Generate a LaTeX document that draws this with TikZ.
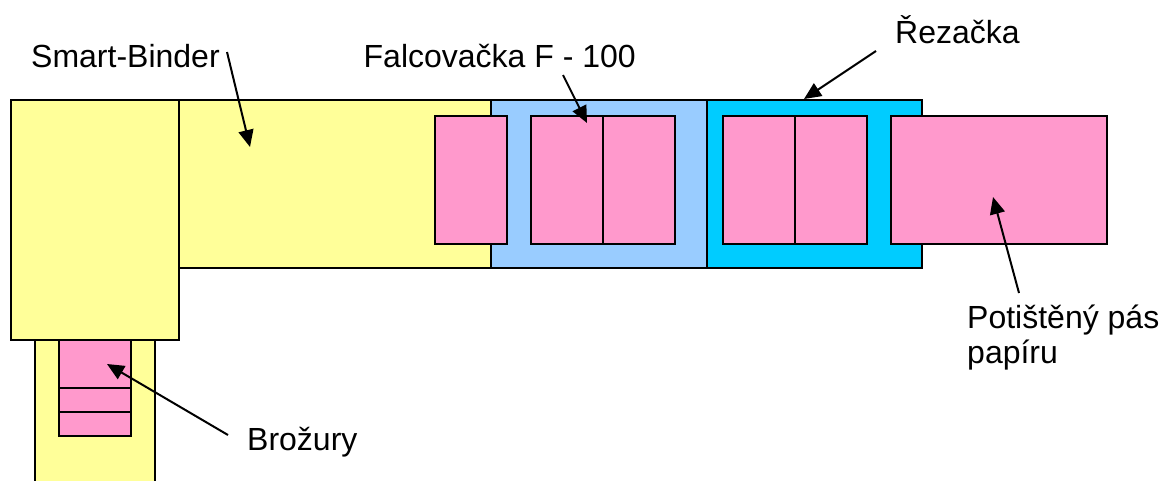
\documentclass[tikz,border=0pt]{standalone}
\usepackage{fontspec}
\setmainfont{Liberation Sans}
\usetikzlibrary{arrows.meta}
\definecolor{ylw}{HTML}{FFFF99}
\definecolor{lblue}{HTML}{99CCFF}
\definecolor{cyn}{HTML}{00CCFF}
\definecolor{pnk}{HTML}{FF99CC}
\begin{document}
\begin{tikzpicture}[x=1pt,y=-1pt,
  box/.style={draw=black, line width=2pt},
  lbl/.style={font=\fontsize{32}{35}\selectfont, inner sep=0pt, anchor=base west, align=left},
  arr/.style={-{Triangle[length=17pt,width=15pt]}, line width=2pt}]
\useasboundingbox (0,0) rectangle (1161,480);
\begin{scope}
\clip (0,0) rectangle (1161,480);
% lower output strip
\fill[ylw] (35,340) rectangle (155,482);
\draw[line width=2pt] (35,482) -- (35,340) -- (155,340) -- (155,482);
\end{scope}
% binder body
\draw[box, fill=ylw] (11,100) rectangle (179,340);
\draw[box, fill=ylw] (179,100) rectangle (491,268);
% folder and cutter
\draw[box, fill=lblue] (491,100) rectangle (707,268);
\draw[box, fill=cyn] (707,100) rectangle (922,268);
% pink sheets
\draw[box, fill=pnk] (435,116) rectangle (507,244);
\draw[box, fill=pnk] (531,116) rectangle (603,244);
\draw[box, fill=pnk] (603,116) rectangle (675,244);
\draw[box, fill=pnk] (723,116) rectangle (795,244);
\draw[box, fill=pnk] (795,116) rectangle (867,244);
\draw[box, fill=pnk] (891,116) rectangle (1107,244);
% booklets
\draw[box, fill=pnk] (59,340) rectangle (131,388);
\draw[box, fill=pnk] (59,388) rectangle (131,412);
\draw[box, fill=pnk] (59,412) rectangle (131,436);
% labels
\node[lbl] (sb) at (31,67) {Smart-Binder};
\node[lbl, anchor=base east] (fa) at (636,67) {Falcovačka F - 100};
\node[lbl] (re) at (895,43) {Řezačka};
\node[lbl] (po) at (967,363) {Potištěný pás\\papíru};
\node[lbl] (br) at (247,450) {Brožury};
% arrow ends
\coordinate (sbS) at (227,52);  \coordinate (sbT) at (250,147);
\coordinate (faS) at (563,75);  \coordinate (faT) at (587,123);
\coordinate (reS) at (876,51);  \coordinate (reT) at (804,99);
\coordinate (poS) at (1019,293); \coordinate (poT) at (993,197);
\coordinate (brS) at (228,435); \coordinate (brT) at (107,364);
\draw[arr] (sbS) -- (sbT);
\draw[arr] (faS) -- (faT);
\draw[arr] (reS) -- (reT);
\draw[arr] (poS) -- (poT);
\draw[arr] (brS) -- (brT);
\end{tikzpicture}
\end{document}
